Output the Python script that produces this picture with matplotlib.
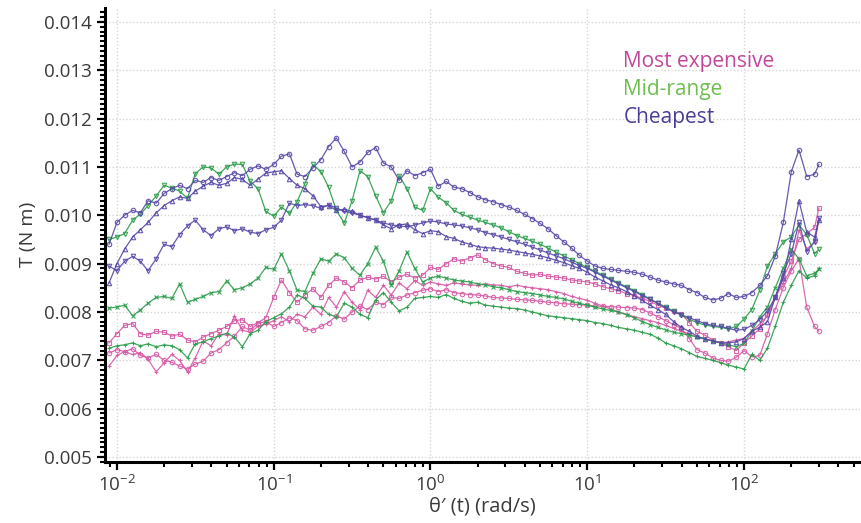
import numpy as np
import matplotlib
matplotlib.use("Agg")
from matplotlib import pyplot as plt
from matplotlib.ticker import MultipleLocator, FormatStrFormatter, LogLocator

plt.rcParams["font.family"] = ["Open Sans", "DejaVu Sans"]
plt.rcParams["mathtext.fontset"] = "custom"
plt.rcParams["mathtext.rm"] = "Open Sans"

# Shear rate (rad/s), shared by all runs
speed = [0.00891,
         0.0100, 0.0112, 0.0126, 0.0141, 0.0158, 0.0178, 0.0200, 0.0224, 0.0251, 0.0282,
         0.0316, 0.0355, 0.0398, 0.0447, 0.0501, 0.0562, 0.0631, 0.0708, 0.0794, 0.0891,
         0.100, 0.112, 0.126, 0.141, 0.158, 0.178, 0.200, 0.224, 0.251, 0.282,
         0.316, 0.355, 0.398, 0.447, 0.501, 0.562, 0.631, 0.708, 0.794, 0.891,
         1.00, 1.12, 1.26, 1.41, 1.58, 1.78, 2.00, 2.24, 2.51, 2.82,
         3.16, 3.55, 3.98, 4.47, 5.01, 5.62, 6.31, 7.08, 7.94, 8.91,
         10.0, 11.2, 12.6, 14.1, 15.8, 17.8, 20.0, 22.4, 25.1, 28.2,
         31.6, 35.5, 39.8, 44.7, 50.1, 56.2, 63.1, 70.8, 79.4, 89.1,
         100, 112, 126, 141, 158, 178, 200, 224, 251, 282,
         300]

# Torque in mN m
cheap_1 = [9.40, 9.85, 10.00, 10.10, 10.05, 10.30, 10.25, 10.45, 10.55, 10.62,
           10.55, 10.72, 10.68, 10.78, 10.72, 10.80, 10.88, 10.82, 10.95, 11.02,
           10.95, 11.05, 11.22, 11.27, 10.85, 10.80, 10.98, 11.15, 11.42, 11.60,
           11.32, 11.00, 11.10, 11.30, 11.40, 11.08, 11.00, 10.72, 10.92, 10.82,
           10.88, 10.95, 10.60, 10.70, 10.58, 10.55, 10.47, 10.38, 10.32, 10.28,
           10.22, 10.17, 10.10, 10.02, 9.93, 9.83, 9.72, 9.58, 9.45, 9.32,
           9.17, 9.05, 8.95, 8.90, 8.88, 8.86, 8.84, 8.82, 8.78, 8.72,
           8.66, 8.62, 8.58, 8.55, 8.46, 8.40, 8.30, 8.25, 8.28, 8.38,
           8.30, 8.32, 8.40, 8.55, 8.75, 9.15, 9.85, 10.90, 11.35, 10.80,
           10.85, 11.05]
cheap_2 = [8.60, 9.00, 9.30, 9.55, 9.70, 9.85, 10.05, 10.20, 10.30, 10.38,
           10.35, 10.50, 10.60, 10.68, 10.62, 10.66, 10.78, 10.74, 10.62, 10.75,
           10.87, 10.90, 10.92, 10.76, 10.62, 10.55, 10.40, 10.18, 10.20, 10.10,
           10.12, 10.08, 10.00, 9.95, 9.90, 9.80, 9.72, 9.80, 9.82, 9.70,
           9.62, 9.68, 9.66, 9.56, 9.52, 9.45, 9.40, 9.35, 9.33, 9.32,
           9.30, 9.28, 9.25, 9.22, 9.19, 9.16, 9.12, 9.07, 9.02, 8.96,
           8.90, 8.82, 8.72, 8.64, 8.56, 8.50, 8.42, 8.33, 8.24, 8.14,
           8.05, 7.95, 7.80, 7.68, 7.60, 7.50, 7.44, 7.40, 7.36, 7.36,
           7.38, 7.45, 7.60, 7.68, 7.80, 8.30, 8.70, 9.50, 10.30, 9.65,
           9.55, 9.90]
cheap_3 = [8.95, 8.85, 9.05, 9.15, 9.05, 8.85, 9.10, 9.40, 9.35, 9.60,
           9.78, 9.90, 9.70, 9.58, 9.72, 9.76, 9.68, 9.72, 9.65, 9.62,
           9.70, 9.75, 9.90, 10.25, 10.20, 10.22, 10.20, 10.14, 10.22, 10.15,
           10.08, 10.05, 10.00, 9.95, 9.90, 9.84, 9.80, 9.78, 9.76, 9.80,
           9.84, 9.88, 9.86, 9.82, 9.80, 9.78, 9.74, 9.70, 9.64, 9.60,
           9.55, 9.50, 9.45, 9.40, 9.34, 9.28, 9.22, 9.16, 9.10, 9.03,
           8.96, 8.90, 8.82, 8.74, 8.66, 8.58, 8.50, 8.42, 8.34, 8.26,
           8.18, 8.08, 8.00, 7.94, 7.88, 7.82, 7.76, 7.72, 7.70, 7.66,
           7.62, 7.64, 7.72, 7.84, 8.02, 8.30, 8.80, 9.20, 9.85, 9.25,
           9.45, 9.95]

mid_1 = [9.50, 9.55, 9.62, 9.90, 10.02, 10.20, 10.40, 10.62, 10.56, 10.50,
         10.35, 10.86, 11.00, 10.98, 10.85, 11.00, 11.06, 11.05, 10.70, 10.55,
         10.08, 9.98, 10.17, 10.04, 10.28, 10.65, 11.05, 10.90, 10.58, 10.10,
         9.84, 10.30, 10.92, 10.80, 10.40, 10.05, 10.30, 10.82, 10.55, 10.17,
         10.10, 10.55, 10.37, 10.26, 10.10, 10.02, 9.96, 9.90, 9.85, 9.80,
         9.74, 9.66, 9.58, 9.52, 9.46, 9.40, 9.32, 9.24, 9.16, 9.08,
         9.00, 8.92, 8.84, 8.76, 8.68, 8.60, 8.52, 8.44, 8.36, 8.27,
         8.18, 8.10, 8.02, 7.94, 7.85, 7.78, 7.73, 7.70, 7.68, 7.65,
         7.70, 7.85, 8.05, 8.45, 8.95, 9.20, 9.45, 9.55, 9.80, 9.60,
         9.20, 9.30]
mid_2 = [8.08, 8.10, 8.14, 7.92, 8.04, 8.18, 8.30, 8.32, 8.28, 8.58,
         8.20, 8.26, 8.32, 8.40, 8.42, 8.64, 8.46, 8.50, 8.58, 8.70,
         8.92, 8.88, 9.20, 8.85, 8.45, 8.42, 8.80, 9.10, 9.05, 9.20,
         9.12, 8.90, 8.76, 9.00, 9.34, 9.05, 8.55, 8.85, 9.24, 8.90,
         8.62, 8.70, 8.74, 8.70, 8.66, 8.64, 8.62, 8.58, 8.56, 8.52,
         8.50, 8.46, 8.42, 8.40, 8.38, 8.35, 8.32, 8.30, 8.27, 8.22,
         8.18, 8.14, 8.10, 8.06, 8.03, 8.00, 7.94, 7.88, 7.80, 7.74,
         7.68, 7.63, 7.58, 7.55, 7.52, 7.48, 7.44, 7.40, 7.36, 7.32,
         7.28, 7.35, 7.60, 7.90, 8.10, 8.50, 8.90, 9.30, 9.10, 8.75,
         8.80, 8.88]
mid_3 = [7.25, 7.30, 7.32, 7.36, 7.30, 7.34, 7.28, 7.32, 7.30, 7.22,
         7.05, 7.34, 7.38, 7.45, 7.50, 7.56, 7.48, 7.28, 7.55, 7.62,
         7.80, 7.88, 7.96, 8.10, 8.35, 8.28, 8.12, 8.10, 7.95, 7.90,
         8.18, 8.10, 7.95, 7.88, 8.25, 8.40, 8.20, 8.02, 8.10, 8.28,
         8.30, 8.32, 8.30, 8.36, 8.28, 8.22, 8.18, 8.20, 8.14, 8.12,
         8.10, 8.08, 8.07, 8.04, 8.00, 7.96, 7.92, 7.90, 7.88, 7.86,
         7.84, 7.82, 7.78, 7.76, 7.72, 7.68, 7.65, 7.62, 7.58, 7.54,
         7.46, 7.36, 7.30, 7.24, 7.16, 7.08, 7.04, 7.00, 6.95, 6.90,
         6.86, 6.82, 7.12, 7.00, 7.25, 7.70, 8.20, 8.55, 8.85, 8.70,
         8.75, 8.90]

dear_1 = [7.36, 7.55, 7.72, 7.76, 7.55, 7.52, 7.60, 7.58, 7.50, 7.54,
          7.42, 7.38, 7.48, 7.55, 7.62, 7.70, 7.82, 7.84, 7.70, 7.78,
          7.88, 8.30, 8.66, 8.40, 8.20, 8.35, 8.48, 8.30, 8.55, 8.70,
          8.62, 8.50, 8.66, 8.72, 8.68, 8.74, 8.62, 8.72, 8.78, 8.70,
          8.76, 8.92, 8.88, 9.00, 9.10, 9.05, 9.12, 9.18, 9.08, 9.00,
          8.95, 8.92, 8.84, 8.80, 8.76, 8.78, 8.74, 8.72, 8.70, 8.66,
          8.64, 8.62, 8.58, 8.52, 8.48, 8.44, 8.38, 8.34, 8.28, 8.22,
          8.14, 8.08, 8.02, 7.96, 7.78, 7.60, 7.52, 7.42, 7.36, 7.28,
          7.20, 7.36, 7.50, 7.65, 7.95, 8.30, 8.72, 9.05, 9.50, 9.62,
          9.75, 10.15]
dear_2 = [6.88, 7.10, 7.18, 7.12, 7.16, 7.02, 6.76, 6.95, 7.12, 7.00,
          6.76, 7.05, 7.40, 7.30, 7.55, 7.52, 7.92, 7.62, 7.58, 7.70,
          7.75, 7.82, 7.90, 7.80, 7.95, 7.90, 8.10, 7.95, 8.30, 8.10,
          8.42, 8.20, 8.05, 8.45, 8.30, 8.55, 8.35, 8.60, 8.48, 8.65,
          8.55, 8.62, 8.58, 8.55, 8.60, 8.58, 8.56, 8.55, 8.58, 8.56,
          8.55, 8.52, 8.55, 8.52, 8.50, 8.48, 8.46, 8.42, 8.38, 8.32,
          8.28, 8.24, 8.18, 8.12, 8.06, 8.00, 7.95, 7.90, 7.86, 7.82,
          7.78, 7.72, 7.66, 7.60, 7.54, 7.48, 7.44, 7.40, 7.36, 7.38,
          7.42, 7.45, 7.60, 7.75, 7.92, 8.30, 8.60, 8.90, 9.70, 9.30,
          9.45, 9.90]
dear_3 = [7.15, 7.22, 7.18, 7.24, 7.10, 7.05, 7.12, 7.00, 6.96, 6.88,
          6.82, 6.92, 6.98, 7.15, 7.22, 7.36, 7.50, 7.70, 7.62, 7.76,
          7.80, 7.70, 7.78, 7.88, 7.82, 7.65, 7.62, 7.70, 7.78, 7.92,
          7.85, 8.00, 8.12, 8.05, 8.20, 8.15, 8.30, 8.28, 8.35, 8.40,
          8.45, 8.48, 8.42, 8.46, 8.40, 8.38, 8.36, 8.35, 8.33, 8.30,
          8.29, 8.28, 8.26, 8.25, 8.24, 8.22, 8.20, 8.19, 8.17, 8.16,
          8.15, 8.14, 8.12, 8.12, 8.11, 8.10, 8.09, 8.08, 8.05, 7.98,
          7.90, 7.82, 7.74, 7.66, 7.45, 7.22, 7.15, 7.05, 7.00, 6.98,
          7.06, 7.20, 7.07, 7.10, 7.55, 8.05, 8.50, 8.85, 9.10, 8.10,
          7.70, 7.60]

labels = ["Most expensive", "Mid-range", "Cheapest"]
line_colors = ["#d65aa6", "#2a9c4a", "#5548a8"]
text_colors = ["#c2479a", "#6cbf4e", "#4a3c98"]

runs = [
    (dear_1, 0, "s"), (dear_2, 0, "+"), (dear_3, 0, "o"),
    (mid_1, 1, "v"), (mid_2, 1, "x"), (mid_3, 1, "+"),
    (cheap_1, 2, "o"), (cheap_2, 2, "^"), (cheap_3, 2, "v"),
]

fig = plt.figure(figsize=(8.61, 5.23), dpi=100)
ax = fig.add_axes([0.122, 0.117, 0.877, 0.868])

for values, group, marker in runs:
    ax.plot(speed, np.array(values) * 1e-3, color=line_colors[group],
            marker=marker, markersize=3.2, markerfacecolor="none",
            markeredgewidth=0.8, linewidth=0.9, alpha=0.9)

ax.set_xscale("log")
ax.set_xlim(0.0084, 550)
ax.set_ylim(0.0049, 0.01429)

ax.yaxis.set_major_locator(MultipleLocator(0.001))
ax.yaxis.set_minor_locator(MultipleLocator(0.0001))
ax.yaxis.set_major_formatter(FormatStrFormatter("%.3f"))
ax.xaxis.set_major_locator(LogLocator(base=10))
ax.xaxis.set_minor_locator(LogLocator(base=10, subs=np.arange(2, 10)))

for side in ["top", "right"]:
    ax.spines[side].set_visible(False)
for side in ["left", "bottom"]:
    ax.spines[side].set_linewidth(2.2)

ax.tick_params(which="major", direction="out", length=5.5, width=1.6,
               labelsize=13.5, labelcolor="#3a3a3a", pad=4)
ax.tick_params(which="minor", direction="out", length=3.8, width=1.5)

ax.grid(True, which="major", linestyle=(0, (1, 1.5)), color="#d6d6d6", linewidth=1.0)
ax.set_axisbelow(True)

ax.set_xlabel("θ′ (t) (rad/s)", fontsize=14.5, color="#3a3a3a", labelpad=1)
ax.set_ylabel("T (N m)", fontsize=14, color="#3a3a3a", labelpad=5)

# colour-coded labels instead of a boxed legend
for k, (label, c) in enumerate(zip(labels, text_colors)):
    ax.text(0.6865, 0.8696 - 0.0617 * k, label, color=c, fontsize=15,
            transform=ax.transAxes, va="baseline", ha="left")

plt.savefig("out.png", dpi=100)
